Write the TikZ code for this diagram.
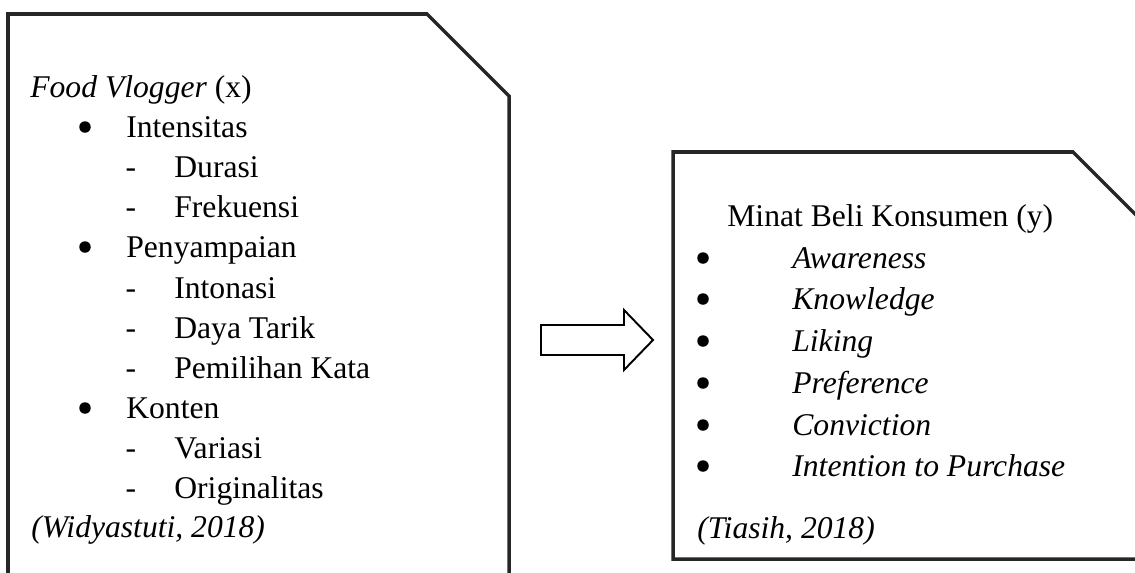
\documentclass[tikz,border=0pt]{standalone}
\usepackage{fontspec}
\setmainfont{Liberation Serif}
\usepackage{tikz}
\usetikzlibrary{positioning}

\begin{document}
\begin{tikzpicture}[
x=0.02cm, y=-0.02cm,
font=\fontsize{18}{22}\selectfont,
panel/.style={draw=black!85, line width=2pt, line join=miter},
txt/.style={anchor=base west, inner sep=0pt},
itemdot/.style={circle, fill=black, inner sep=0pt, minimum size=0.23cm},
dashmark/.style={anchor=base, inner sep=0pt},
blockarrow/.style={draw, line width=1.1pt, fill=white, line join=miter}
]
\useasboundingbox (0,0) rectangle (1135,572);
\clip (0,0) rectangle (1135,572);

% --- LEFT BOX: FOOD VLOGGER ---
\draw[panel] (8,600) -- (8,14) -- (427,14) -- (509,96) -- (509,600);

\node[txt] (vlogger) at (30,97) {\textit{Food Vlogger} (x)};
\node[itemdot] (b1) at (85,127) {};
\node[txt] (intensitas) at (126,137) {Intensitas};
\node[dashmark] (d1) at (131,177) {-};
\node[txt] (durasi) at (174,177) {Durasi};
\node[dashmark] (d2) at (131,217) {-};
\node[txt] (frekuensi) at (174,217) {Frekuensi};
\node[itemdot] (b2) at (85,247) {};
\node[txt] (penyampaian) at (126,257) {Penyampaian};
\node[dashmark] (d3) at (131,298) {-};
\node[txt] (intonasi) at (174,298) {Intonasi};
\node[dashmark] (d4) at (131,338) {-};
\node[txt] (dayatarik) at (174,338) {Daya Tarik};
\node[dashmark] (d5) at (131,378) {-};
\node[txt] (pemilihan) at (174,378) {Pemilihan Kata};
\node[itemdot] (b3) at (85,408) {};
\node[txt] (konten) at (126,418) {Konten};
\node[dashmark] (d6) at (131,458) {-};
\node[txt] (variasi) at (174,458) {Variasi};
\node[dashmark] (d7) at (131,498) {-};
\node[txt] (originalitas) at (174,498) {Originalitas};
\node[txt] (srcx) at (31,537) {\textit{(Widyastuti, 2018)}};

% --- ARROW ---
\draw[blockarrow] (541,325) -- (624,325) -- (624,310) -- (653,340) -- (624,370) -- (624,355) -- (541,355) -- cycle;

% --- RIGHT BOX: MINAT BELI ---
\draw[panel] (673,152) -- (1073,152) -- (1160,239) -- (1160,559) -- (673,559) -- cycle;

\node[txt] (minat) at (727,226) {Minat Beli Konsumen (y)};
\node[itemdot] (r1) at (703,258) {};
\node[txt] (awareness) at (792,268) {\textit{Awareness}};
\node[itemdot] (r2) at (703,299) {};
\node[txt] (knowledge) at (792,309) {\textit{Knowledge}};
\node[itemdot] (r3) at (703,341) {};
\node[txt] (liking) at (792,351) {\textit{Liking}};
\node[itemdot] (r4) at (703,383) {};
\node[txt] (preference) at (792,393) {\textit{Preference}};
\node[itemdot] (r5) at (703,425) {};
\node[txt] (conviction) at (792,435) {\textit{Conviction}};
\node[itemdot] (r6) at (703,466) {};
\node[txt] (intention) at (792,476) {\textit{Intention to Purchase}};
\node[txt] (srcy) at (697,538) {\textit{(Tiasih, 2018)}};

\end{tikzpicture}
\end{document}
